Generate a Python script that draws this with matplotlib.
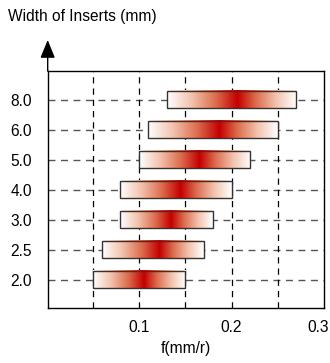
import numpy as np
import matplotlib
matplotlib.use("Agg")
import matplotlib.pyplot as plt
import matplotlib.transforms as mtransforms
from matplotlib.colors import LinearSegmentedColormap
from matplotlib.patches import Rectangle

plt.rcParams['font.family'] = ['Liberation Sans', 'DejaVu Sans']

widths = ["2.0", "2.5", "3.0", "4.0", "5.0", "6.0", "8.0"]
f_min = [0.05, 0.06, 0.08, 0.08, 0.10, 0.11, 0.13]
f_max = [0.15, 0.17, 0.18, 0.20, 0.22, 0.25, 0.27]
f_peak = [0.105, 0.122, 0.135, 0.145, 0.165, 0.187, 0.206]
x_ticks = [0.1, 0.2, 0.3]
x_grid = [0.05, 0.1, 0.15, 0.2, 0.25]

cmap = LinearSegmentedColormap.from_list(
    "wr", [(0.0, "#ffffff"), (0.35, "#f2c2ad"), (0.7, "#dc6a4c"), (1.0, "#c40000")])

fs = 11.2
fig = plt.figure(figsize=(3.3, 3.63), dpi=100)
ax = fig.add_axes([0.1445, 0.1507, 0.838, 0.6537])

ys = np.arange(len(widths))
for y in ys:
    ax.axhline(y, color='#555555', lw=1, ls=(0, (5, 4)), zorder=1)
for xg in x_grid:
    ax.axvline(xg, color='black', lw=0.9, ls=(0, (5, 4)), zorder=1)

h = 0.58
for y, lo, hi, pk in zip(ys, f_min, f_max, f_peak):
    xs = np.linspace(lo, hi, 300)
    t = np.where(xs < pk, (xs - lo) / (pk - lo), (hi - xs) / (hi - pk))
    ax.imshow(t[np.newaxis, :], cmap=cmap, vmin=0, vmax=1, aspect='auto',
              extent=(lo, hi, y - h / 2, y + h / 2), zorder=2, interpolation='bilinear')
    ax.add_patch(Rectangle((lo, y - h / 2), hi - lo, h, fill=False,
                           edgecolor='#333333', lw=1, zorder=3))
ax.set_xlim(0.0015, 0.3)
ax.set_ylim(-0.95, 6.95)

ax.set_yticks(ys)
ax.set_yticklabels(widths, fontsize=fs)
ax.set_xticks(x_ticks)
ax.set_xticklabels([str(v) for v in x_ticks], fontsize=fs)
ax.tick_params(axis='both', length=0)
ax.tick_params(axis='y', pad=11.5)
ax.tick_params(axis='x', pad=8.5)
ax.set_xlabel("f(mm/r)", fontsize=fs, labelpad=4)
for s in ax.spines.values():
    s.set_color('black')
    s.set_linewidth(1)

# shift the last x tick label left so it fits inside the figure
last = ax.get_xticklabels()[-1]
last.set_transform(last.get_transform() +
                   mtransforms.ScaledTranslation(-6 / 100, 0, fig.dpi_scale_trans))

ax.annotate('', xy=(0, 1 + (71 - 40) / 237.3), xytext=(0, 1),
            xycoords='axes fraction',
            arrowprops=dict(arrowstyle='-|>,head_length=1.1,head_width=0.45',
                            color='black', lw=1, shrinkA=0, shrinkB=0),
            annotation_clip=False)

fig.text(8 / 330, 1 - 16 / 363, "Width of Inserts (mm)", fontsize=fs,
         ha='left', va='center')

fig.savefig("out.png", dpi=100)
